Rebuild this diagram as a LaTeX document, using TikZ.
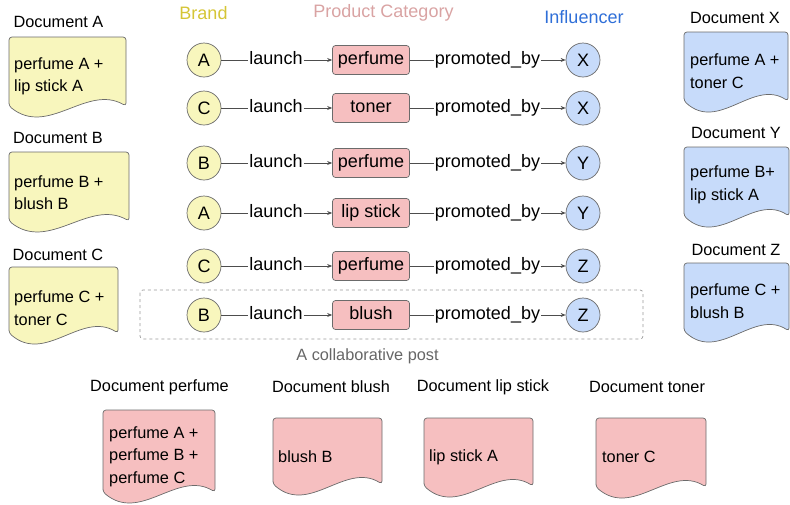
\documentclass[tikz,border=0pt]{standalone}
\usepackage{fontspec}
\setmainfont{Liberation Sans}
\usetikzlibrary{arrows.meta}
\definecolor{yfill}{HTML}{F8F6BD}
\definecolor{pfill}{HTML}{F6BFC0}
\definecolor{bfill}{HTML}{C7DBFA}
\definecolor{strk}{HTML}{6B6B6B}
\definecolor{brandc}{HTML}{D5C536}
\definecolor{prodc}{HTML}{D9A3A3}
\definecolor{inflc}{HTML}{2F6FD8}
\definecolor{edgec}{HTML}{4D4D4D}
\definecolor{dashc}{HTML}{9A9A9A}
\definecolor{notec}{HTML}{666666}
\newcommand{\docshp}[5]{%
  \pgfmathsetmacro{\dye}{#5-9}%
  \pgfmathsetmacro{\dyh}{#5-9-22.5}%
  \pgfmathsetmacro{\dyl}{#5-9+31.5}%
  \pgfmathsetmacro{\dxa}{#2+(#4-#2)/3}%
  \pgfmathsetmacro{\dxb}{#2+2*(#4-#2)/3}%
  \draw[docbox, fill=#1, rounded corners=3pt] (#2,\dye) -- (#2,#3) -- (#4,#3) -- (#4,\dye)
     .. controls (\dxb,\dyh) and (\dxa,\dyl) .. cycle;%
}
\begin{document}
\begin{tikzpicture}[x=1pt,y=-1pt,
  big/.style={font=\fontsize{18}{20}\selectfont},
  small/.style={font=\fontsize{16.3}{22.5}\selectfont},
  brandnode/.style={circle, draw=strk, fill=yfill, minimum size=34pt, inner sep=0pt, line width=0.7pt, big},
  prodnode/.style={rectangle, rounded corners=3pt, draw=strk, fill=pfill, minimum width=77pt, minimum height=29pt, inner sep=0pt, line width=0.7pt, text height=12.9pt, text depth=3.8pt, big},
  inflnode/.style={circle, draw=strk, fill=bfill, minimum size=34pt, inner sep=0pt, line width=0.7pt, big},
  edgelab/.style={big, inner sep=1pt, text height=12.9pt, text depth=3.8pt},
  conn/.style={draw=edgec, line width=0.7pt},
  arr/.style={conn, -{Stealth[length=5pt,width=4pt]}},
  docbox/.style={draw=strk, line width=0.7pt},
  doctext/.style={small, anchor=west, align=left, inner sep=0pt},
  doclabel/.style={small, inner sep=0pt},
  header/.style={big, inner sep=0pt},
]
\useasboundingbox (0,0) rectangle (790,504);

% headers
\node[header, text=brandc] (hBrand) at (203.5,13) {Brand};
\node[header, text=prodc] (hProd) at (383.5,13) {Product Category};
\node[header, text=inflc] (hInfl) at (584,17) {Influencer};

% collaborative frame
\draw[dashc, dashed, line width=0.7pt, rounded corners=3pt] (140,290) rectangle (643,339);
\node[small, text=notec, inner sep=0pt] (collab) at (367.5,356) {A collaborative post};

% rows
\foreach \yy/\bb/\pp/\ii [count=\n] in {60/A/perfume/X, 108/C/toner/X, 163/B/perfume/Y, 213/A/lip stick/Y, 266/C/perfume/Z, 315/B/blush/Z} {
  \node[brandnode] (b\n) at (204,\yy) {\bb};
  \node[edgelab] (l\n) at (276,\yy) {launch};
  \node[prodnode] (p\n) at (371,\yy) {\pp};
  \node[edgelab] (m\n) at (487.5,\yy) {promoted\_by};
  \node[inflnode] (i\n) at (583,\yy) {\ii};
  \draw[conn] (b\n) -- (l\n);
  \draw[arr] (l\n) -- (p\n);
  \draw[conn] (p\n) -- (m\n);
  \draw[arr] (m\n) -- (i\n);
}

% left documents
\node[doclabel] (lA) at (58.5,22) {Document A};
\docshp{yfill}{9}{37}{126}{115}
\node[doctext] (tA) at (14,76.5) {perfume A +\\lip stick A};

\node[doclabel] (lB) at (58,138) {Document B};
\docshp{yfill}{9}{152}{129}{230}
\node[doctext] (tB) at (14,192.5) {perfume B +\\blush B};

\node[doclabel] (lC) at (58,255) {Document C};
\docshp{yfill}{9}{267}{118}{342}
\node[doctext] (tC) at (14,308) {perfume C +\\toner C};

% right documents
\node[doclabel] (lX) at (735,18) {Document X};
\docshp{bfill}{684}{32}{788}{110}
\node[doctext] (tX) at (690,71) {perfume A +\\toner C};

\node[doclabel] (lY) at (736,133) {Document Y};
\docshp{bfill}{684}{147}{789}{225}
\node[doctext] (tY) at (690,185) {perfume B+\\lip stick A};

\node[doclabel] (lZ) at (736,250) {Document Z};
\docshp{bfill}{684}{263}{789}{340}
\node[doctext] (tZ) at (690,301) {perfume C +\\blush B};

% bottom documents
\node[doclabel] (lPerf) at (159.5,387) {Document perfume};
\docshp{pfill}{103}{410}{215}{501}
\node[doctext] (tPerf) at (109,456.5) {perfume A +\\perfume B +\\perfume C};

\node[doclabel] (lBlush) at (331,387) {Document blush};
\docshp{pfill}{273}{418}{382}{493}
\node[doctext] (tBlush) at (278,457) {blush B};

\node[doclabel] (lLip) at (483,387) {Document lip stick};
\docshp{pfill}{424}{418}{533}{495}
\node[doctext] (tLip) at (429,457) {lip stick A};

\node[doclabel] (lToner) at (647,387) {Document toner};
\docshp{pfill}{596}{418}{706}{496}
\node[doctext] (tToner) at (602,457) {toner C};
\end{tikzpicture}
\end{document}
